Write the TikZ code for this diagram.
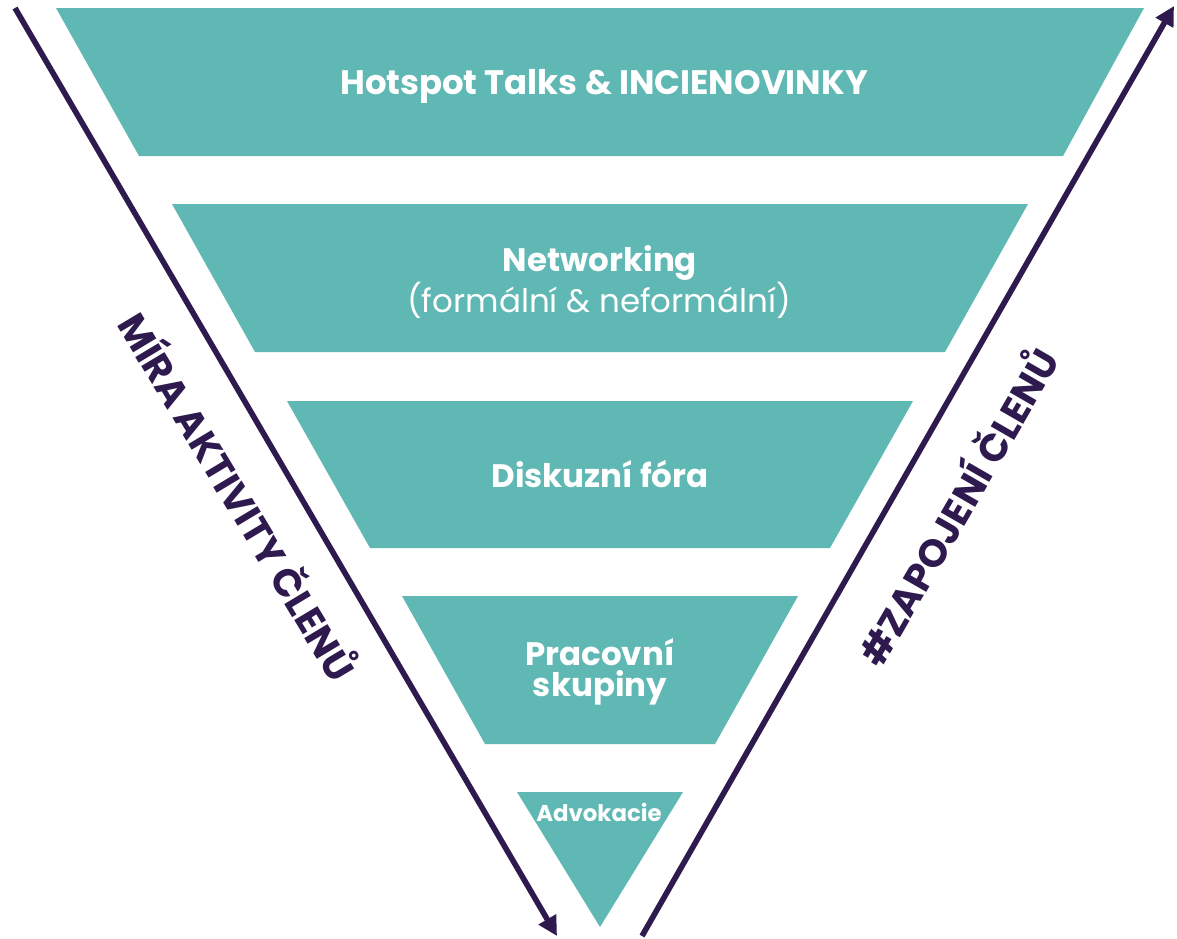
\documentclass[tikz,border=0pt]{standalone}
\usepackage{fontspec}
\setmainfont{Poppins}
\usepackage{tikz}
\usepackage{xcolor}
\usetikzlibrary{arrows.meta}
\definecolor{funnelteal}{HTML}{5FB8B3}
\definecolor{arrowpurple}{HTML}{2E1A4E}

\begin{document}
\begin{tikzpicture}[x=0.02cm, y=-0.02cm,
    band/.style={fill=funnelteal},
    bandtext/.style={text=white, inner sep=0pt, align=center, font=\bfseries\fontsize{18.5}{18}\selectfont},
    sidearrow/.style={draw=arrowpurple, line width=3.2pt, -{Triangle[length=11pt,width=11pt]}},
    sidetext/.style={text=arrowpurple, inner sep=0pt, font=\bfseries\fontsize{22}{22}\selectfont}]
        \useasboundingbox (0,0) rectangle (1177,938);
        % funnel bands
        \fill[band] (56,8) -- (1144,8) -- (1063,156) -- (139,156) -- cycle;
        \fill[band] (172,204) -- (1028,204) -- (945,352) -- (255,352) -- cycle;
        \fill[band] (287,401) -- (913,401) -- (830,548) -- (370,548) -- cycle;
        \fill[band] (402,596) -- (798,596) -- (715,744) -- (485,744) -- cycle;
        \fill[band] (517,792) -- (683,792) -- (600,927) -- cycle;
        % labels
        \node[bandtext, anchor=base, font=\bfseries\fontsize{19.3}{18}\selectfont] (hotspot) at (604,94) {Hotspot Talks \& INCIENOVINKY};
        \node[bandtext, anchor=base] (networking) at (600,271) {Networking};
        \node[bandtext, anchor=base, font=\fontsize{18.5}{18}\selectfont] (formal) at (599,312) {(formální \& neformální)};
        \node[bandtext, anchor=base] (forums) at (600,487) {Diskuzní fóra};
        \node[bandtext] (groups) at (600,672) {Pracovní\\skupiny};
        \node[bandtext, anchor=base, font=\bfseries\fontsize{13}{13}\selectfont] (advocacy) at (599,821) {Advokacie};
        % side arrows
        \coordinate (lefttop) at (15,8);
        \coordinate (leftend) at (557,936);
        \coordinate (rightstart) at (642,936);
        \coordinate (righttip) at (1174,6);
        \draw[sidearrow] (lefttop) -- (leftend);
        \draw[sidearrow] (rightstart) -- (righttip);
        \node[sidetext, rotate=-59] (activity) at (241,495) {MÍRA AKTIVITY ČLENŮ};
        \node[sidetext, rotate=60] (engagement) at (955,505) {\#ZAPOJENÍ ČLENŮ};
    \end{tikzpicture}
\end{document}
